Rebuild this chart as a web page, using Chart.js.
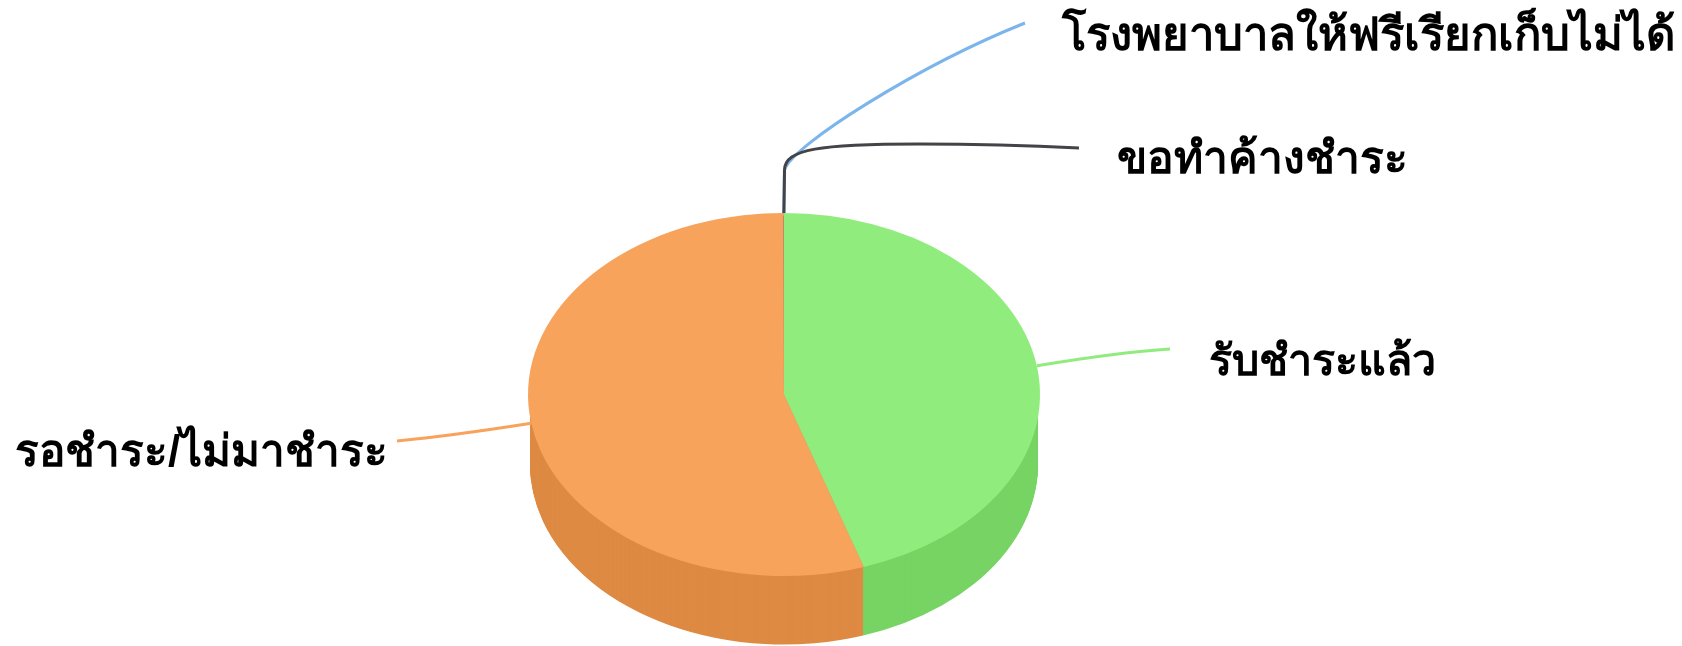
<!DOCTYPE html>
<html>
<head>
<meta charset="utf-8">
<script src="https://cdn.jsdelivr.net/npm/chart.js@4"></script>
<style>
  html, body { margin: 0; background: #fff; }
  canvas { display: block; }
</style>
</head>
<body>
<canvas id="pie3d" width="1682" height="646"></canvas>
<script>
// ----------- Data -----------
const categories = ['รับชำระแล้ว', 'รอชำระ/ไม่มาชำระ', 'โรงพยาบาลให้ฟรีเรียกเก็บไม่ได้', 'ขอทำค้างชำระ'];
const values = [44.95, 55.03, 0.01, 0.01];
const topColors = ['#90ed7d', '#f7a35c', '#7cb5ec', '#434348'];
const sideColors = ['#77d464', '#de8a43', '#639cd3', '#2a2a2f'];

// ----------- Layout of the tilted pie -----------
const pieCx = 784, pieCy = 394.5;
const tilt = 181.5 / 256;
const depth = 70;
const wallScale = 254 / 256;

// label text spot and leader curve per slice, same order as categories
const labelSpots = [
  { x: 1209, y: 375, size: 43 },
  { x: 15, y: 466, size: 44 },
  { x: 1062, y: 50, size: 45.4 },
  { x: 1117, y: 173, size: 44.3 }
];
const leaderPaths = [
  c => { c.quadraticCurveTo(1120, 352, 1170, 349); },
  c => { c.quadraticCurveTo(450, 436, 397, 441); },
  c => { c.lineTo(784.5, 170); c.bezierCurveTo(792, 145, 920, 65, 1025, 23); },
  c => { c.lineTo(784.5, 170); c.bezierCurveTo(785, 149, 820, 144, 919, 144); c.quadraticCurveTo(1000, 144, 1079, 148); }
];

const squash = (ctx, chart, drop, scale) => {
  const midY = (chart.chartArea.top + chart.chartArea.bottom) / 2;
  ctx.translate(pieCx, pieCy + drop);
  ctx.scale(scale, tilt * scale);
  ctx.translate(-pieCx, -midY);
};

// ----------- 3D pie plugin -----------
const pie3d = {
  id: 'pie3d',
  beforeDatasetDraw(chart, args) {
    const ctx = chart.ctx;
    const arcs = args.meta.data;

    // side wall, stacked from the bottom up
    for (let k = depth; k >= 1; k--) {
      ctx.save();
      squash(ctx, chart, k, wallScale);
      arcs.forEach((arc, i) => {
        const orig = arc.options;
        arc.options = Object.create(orig);
        arc.options.backgroundColor = sideColors[i];
        arc.draw(ctx);
        arc.options = orig;
      });
      ctx.restore();
    }

    // top face
    ctx.save();
    squash(ctx, chart, 0, 1);
    arcs.forEach(arc => arc.draw(ctx));
    ctx.restore();
    return false;
  },
  afterDatasetsDraw(chart) {
    const ctx = chart.ctx;
    const arcs = chart.getDatasetMeta(0).data;

    arcs.forEach((arc, i) => {
      const mid = (arc.startAngle + arc.endAngle) / 2;
      ctx.beginPath();
      ctx.moveTo(pieCx + Math.cos(mid) * arc.outerRadius, pieCy + Math.sin(mid) * arc.outerRadius * tilt);
      leaderPaths[i](ctx);
      ctx.strokeStyle = topColors[i];
      ctx.lineWidth = 3;
      ctx.stroke();
    });

    ctx.fillStyle = '#000';
    ctx.textBaseline = 'alphabetic';
    categories.forEach((name, i) => {
      ctx.font = 'bold ' + labelSpots[i].size + 'px "Liberation Sans", "Noto Sans", sans-serif';
      ctx.fillText(name, labelSpots[i].x, labelSpots[i].y);
    });
  }
};

new Chart(document.getElementById('pie3d'), {
  type: 'pie',
  data: {
    labels: categories,
    datasets: [{
      data: values,
      backgroundColor: topColors,
      borderWidth: 0
    }]
  },
  options: {
    responsive: false,
    animation: false,
    layout: { padding: { left: 528, right: 642, top: 67, bottom: 67 } },
    plugins: { legend: { display: false }, tooltip: { enabled: false } }
  },
  plugins: [pie3d]
});
</script>
</body>
</html>
